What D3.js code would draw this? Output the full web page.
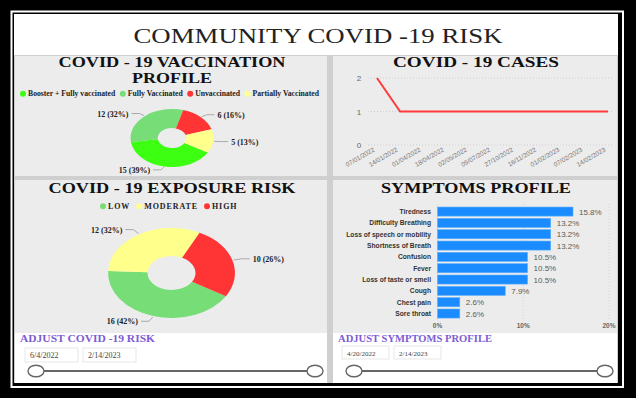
<!DOCTYPE html>
<html><head><meta charset="utf-8">
<script src="https://cdn.jsdelivr.net/npm/d3@7"></script>
<style>html,body{margin:0;padding:0;background:#000;} svg{display:block;}</style>
</head><body><svg id="c" width="636" height="398"></svg>
<script>
// ---------- DATA ----------
const vaccCategories = ["Booster + Fully vaccinated", "Fully Vaccinated", "Unvaccinated", "Partially Vaccinated"];
const vaccValues = [15, 12, 6, 5];
const vaccColors = ["#3dff12", "#77dd77", "#ff3535", "#ffff8c"];

const exposureCategories = ["LOW", "MODERATE", "HIGH"];
const exposureValues = [16, 12, 10];
const exposureColors = ["#77dd77", "#ffff8c", "#ff3535"];

const caseDates = ["07/01/2022", "14/01/2022", "01/04/2022", "18/04/2022", "02/05/2022", "09/07/2022",
                   "27/10/2022", "16/11/2022", "01/02/2023", "07/02/2023", "14/02/2023"];
const caseValues = [2, 1, 1, 1, 1, 1, 1, 1, 1, 1, 1];
const caseTicks = [0, 1, 2];

const symptoms = ["Tiredness", "Difficulty Breathing", "Loss of speech or mobility", "Shortness of Breath",
                  "Confusion", "Fever", "Loss of taste or smell", "Cough", "Chest pain", "Sore throat"];
const symptomValues = [15.8, 13.2, 13.2, 13.2, 10.5, 10.5, 10.5, 7.9, 2.6, 2.6];
const symptomTicks = [0, 10, 20];

const riskRange = ["6/4/2022", "2/14/2023"];
const symptomRange = ["4/20/2022", "2/14/2023"];

// ---------- LAYOUT ----------
const svg = d3.select("#c");
const SERIF = "'Liberation Serif','Times New Roman',serif";
const SANS = "'Liberation Sans',Arial,sans-serif";

svg.append("rect").attr("width", 636).attr("height", 398).attr("fill", "#000");
svg.append("rect").attr("x", 11.5).attr("y", 11.5).attr("width", 611.5).attr("height", 375.5)
  .attr("fill", "none").attr("stroke", "#fff").attr("stroke-width", 2);
svg.append("rect").attr("x", 14).attr("y", 14).attr("width", 604).attr("height", 369).attr("fill", "#cfcfcf");
svg.append("rect").attr("x", 14).attr("y", 14).attr("width", 604).attr("height", 41).attr("fill", "#fff");
const panelBg = "#ececec";
[[15, 56, 312, 120], [333, 56, 284, 120], [15, 180, 312, 153], [333, 180, 284, 153]].forEach(p => {
  svg.append("rect").attr("x", p[0]).attr("y", p[1]).attr("width", p[2]).attr("height", p[3]).attr("fill", panelBg);
});
svg.append("rect").attr("x", 15).attr("y", 333).attr("width", 312).attr("height", 50).attr("fill", "#fff");
svg.append("rect").attr("x", 333).attr("y", 333).attr("width", 284).attr("height", 50).attr("fill", "#fff");

function fitText(sel, w) {
  sel.attr("textLength", w).attr("lengthAdjust", "spacingAndGlyphs");
  return sel;
}

fitText(svg.append("text").attr("x", 318).attr("y", 43).attr("text-anchor", "middle")
  .attr("font-family", SERIF).attr("font-size", 22).attr("fill", "#222")
  .text("COMMUNITY COVID -19 RISK"), 369);

function panelTitle(x, y, txt, w, fs) {
  return fitText(svg.append("text").attr("x", x).attr("y", y).attr("text-anchor", "middle")
    .attr("font-family", SERIF).attr("font-weight", "bold").attr("font-size", fs || 14)
    .attr("fill", "#111").text(txt), w);
}
panelTitle(172, 67, "COVID - 19 VACCINATION", 227);
panelTitle(172, 83, "PROFILE", 80);
panelTitle(476, 67, "COVID - 19 CASES", 166);
panelTitle(172, 193, "COVID - 19 EXPOSURE RISK", 247);
panelTitle(476, 193, "SYMPTOMS PROFILE", 190);

function legend(items, colors, startX, y, fs, gap, spacing) {
  let x = startX;
  items.forEach((t, i) => {
    svg.append("circle").attr("cx", x + 3).attr("cy", y - 2.3).attr("r", 3).attr("fill", colors[i]);
    const tx = svg.append("text").attr("x", x + 8).attr("y", y).attr("font-family", SERIF)
      .attr("font-weight", "bold").attr("font-size", fs).attr("fill", "#222")
      .attr("letter-spacing", spacing || 0).text(t);
    x = x + 8 + tx.node().getComputedTextLength() + gap;
  });
}
legend(vaccCategories, vaccColors, 20, 96, 7.7, 4.5);
legend(exposureCategories, exposureColors, 100, 208.5, 8, 6, 0.9);

function donut(cx, cy, ry, inner, sx, values, colors, startDeg) {
  const pie = d3.pie().sort(null).value(d => d)
    .startAngle(startDeg * Math.PI / 180).endAngle((startDeg + 360) * Math.PI / 180);
  const arcs = pie(values);
  const arc = d3.arc().innerRadius(inner).outerRadius(ry);
  const dg = svg.append("g").attr("transform", `translate(${cx},${cy}) scale(${sx},1)`);
  dg.selectAll("path").data(arcs).join("path").attr("d", arc).attr("fill", (d, i) => colors[i]);
  const total = d3.sum(values);
  const rx = ry * sx;
  arcs.forEach((a, i) => {
    const m = (a.startAngle + a.endAngle) / 2;
    const s = Math.sin(m), c = Math.cos(m);
    const sign = s >= 0 ? 1 : -1;
    const p0 = [cx + rx * 1.02 * s, cy - ry * 1.02 * c];
    const p1 = [cx + rx * 1.12 * s + sign * 2, cy - ry * 1.12 * c];
    const p2 = [p1[0] + sign * 8, p1[1]];
    svg.append("path").attr("d", `M${p0}L${p1}L${p2}`).attr("fill", "none")
      .attr("stroke", "#999").attr("stroke-width", 0.8);
    svg.append("text").attr("x", p2[0] + sign * 3).attr("y", p1[1] + 3)
      .attr("text-anchor", sign > 0 ? "start" : "end")
      .attr("font-family", SERIF).attr("font-weight", "bold").attr("font-size", 8).attr("fill", "#222")
      .text(`${a.data} (${Math.round(a.data / total * 100)}%)`);
  });
}
donut(172, 138, 29, 10, 1.43, vaccValues, vaccColors, 120);
donut(171.5, 273, 45, 17, 1.41, exposureValues, exposureColors, 121);

// line chart
const xl = d3.scalePoint().domain(caseDates).range([377, 608]);
const yl = d3.scaleLinear().domain([0, 2]).range([145, 78]);
caseTicks.forEach(t => {
  svg.append("line").attr("x1", 368).attr("x2", 614).attr("y1", yl(t)).attr("y2", yl(t))
    .attr("stroke", "#c8c8c8").attr("stroke-width", 0.8).attr("stroke-dasharray", "1,2");
  svg.append("text").attr("x", 359).attr("y", yl(t) + 3).attr("text-anchor", "middle")
    .attr("font-family", SANS).attr("font-size", 8).attr("fill", "#666").text(t);
});
caseDates.forEach(d => {
  svg.append("text").attr("transform", `translate(${xl(d) - 2},${151}) rotate(-30)`)
    .attr("text-anchor", "end").attr("font-family", SANS).attr("font-size", 6.4).attr("fill", "#777").text(d);
});
svg.append("path").datum(caseValues.map((v, i) => [caseDates[i], v]))
  .attr("d", d3.line().x(d => xl(d[0])).y(d => yl(d[1])))
  .attr("fill", "none").attr("stroke", "#ff3b3b").attr("stroke-width", 2);

// bar chart
const xb = d3.scaleLinear().domain([0, 20]).range([437.5, 609]);
const yb = d3.scaleBand().domain(symptoms).range([205.9, 319.2]).paddingInner(0.2).paddingOuter(0.1);
symptomTicks.forEach(t => {
  svg.append("line").attr("x1", xb(t)).attr("x2", xb(t)).attr("y1", 204).attr("y2", 320)
    .attr("stroke", "#d0d0d0").attr("stroke-width", 0.8).attr("stroke-dasharray", "1,2");
  svg.append("text").attr("x", xb(t)).attr("y", 328).attr("text-anchor", "middle")
    .attr("font-family", SANS).attr("font-weight", "bold").attr("font-size", 6.5).attr("fill", "#666").text(t + "%");
});
symptoms.forEach((s, i) => {
  svg.append("rect").attr("x", xb(0)).attr("y", yb(s)).attr("width", xb(symptomValues[i]) - xb(0))
    .attr("height", yb.bandwidth()).attr("fill", "#1a8cff").attr("stroke", "#5aaeff").attr("stroke-width", 0.6);
  svg.append("text").attr("x", 431).attr("y", yb(s) + yb.bandwidth() / 2 + 2.4).attr("text-anchor", "end")
    .attr("font-family", SANS).attr("font-weight", "bold").attr("font-size", 6.7).attr("fill", "#333").text(s);
  svg.append("text").attr("x", xb(symptomValues[i]) + 6).attr("y", yb(s) + yb.bandwidth() / 2 + 3)
    .attr("font-family", SANS).attr("font-size", 8).attr("fill", "#5a5a5a").text(symptomValues[i].toFixed(1) + "%");
});

// slicers
function slicer(x0, x1, title, titleW, range, boxX, boxW, boxY, boxH, fs) {
  fitText(svg.append("text").attr("x", x0 + 5).attr("y", 342).attr("font-family", SERIF)
    .attr("font-weight", "bold").attr("font-size", 9.5).attr("fill", "#7d5bd6").text(title), titleW);
  range.forEach((d, i) => {
    const bx = boxX + i * (boxW + 5);
    svg.append("rect").attr("x", bx).attr("y", boxY).attr("width", boxW).attr("height", boxH)
      .attr("fill", "#fff").attr("stroke", "#e2e2e2").attr("stroke-width", 0.8);
    svg.append("text").attr("x", bx + 5).attr("y", boxY + boxH / 2 + 3).attr("font-family", SERIF)
      .attr("font-size", fs).attr("fill", "#444").text(d);
  });
  const parse = d3.timeParse("%m/%d/%Y");
  const dates = range.map(parse);
  const xs = d3.scaleTime().domain(dates).range([x0 + 21, x1 - 12]);
  svg.append("line").attr("x1", xs(dates[0])).attr("x2", xs(dates[1])).attr("y1", 371).attr("y2", 371)
    .attr("stroke", "#666").attr("stroke-width", 2);
  dates.forEach(d => {
    svg.append("ellipse").attr("cx", xs(d)).attr("cy", 371).attr("rx", 8).attr("ry", 5.8)
      .attr("fill", "#fff").attr("stroke", "#666").attr("stroke-width", 1.4);
  });
}
slicer(15, 327, "ADJUST COVID -19 RISK", 135, riskRange, 25, 53, 348, 14, 8);
slicer(333, 617, "ADJUST SYMPTOMS PROFILE", 154, symptomRange, 342, 47, 346, 13, 7);
</script></body></html>
